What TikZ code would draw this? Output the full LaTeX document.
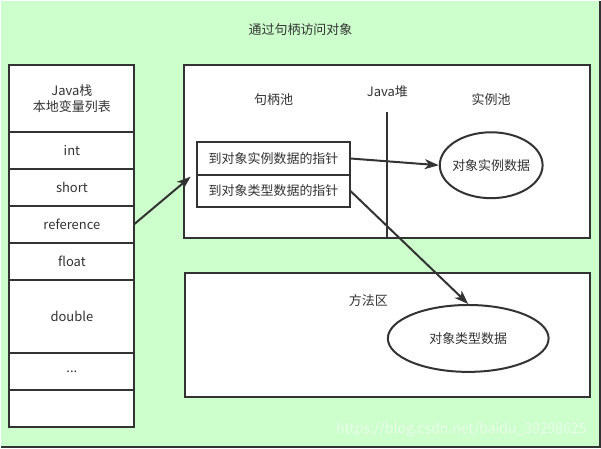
\documentclass[tikz,border=0pt]{standalone}
\usepackage{fontspec}
\setmainfont{Noto Sans CJK SC}
\usepackage{xcolor}
\usepackage{tikz}
\usetikzlibrary{shapes,arrows.meta,positioning}
\definecolor{bggreen}{RGB}{204, 255, 204}
\definecolor{inkgray}{RGB}{51, 51, 51}

\begin{document}
\begin{tikzpicture}[x=1pt, y=1pt,
    cell/.style={rectangle, draw=inkgray, fill=white, line width=2pt, outer sep=0pt, minimum width=125pt, minimum height=37pt, align=center, text=inkgray, font=\fontsize{13}{16}\selectfont},
    ptr/.style={cell, minimum width=154pt, minimum height=32.5pt},
    area/.style={rectangle, draw=inkgray, fill=white, line width=2pt},
    blob/.style={ellipse, draw=inkgray, fill=white, line width=2pt, inner xsep=-6pt, inner ysep=0pt, text=inkgray, font=\fontsize{13}{16}\selectfont},
    note/.style={text=inkgray, font=\fontsize{13}{16}\selectfont},
    arrow/.style={-{Stealth[length=14pt,width=10pt,inset=4pt]}, draw=inkgray, line width=2pt}
]
% Background
\fill[bggreen] (0,0) rectangle (601,-448);
\draw[inkgray, line width=2pt] (0,-446.5) -- (599.5,-446.5) -- (599.5,0);

\node[note] (title) at (300,-29) {通过句柄访问对象};

% Stack
\node[cell, minimum height=67pt] (stackhead) at (71,-97.5) {Java栈\\本地变量列表};
\node[cell, below=0pt of stackhead] (int) {int};
\node[cell, below=0pt of int] (short) {short};
\node[cell, below=0pt of short] (reference) {reference};
\node[cell, below=0pt of reference] (float) {float};
\node[cell, below=0pt of float, minimum height=74pt] (double) {double};
\node[cell, below=0pt of double] (dots) {...};
\node[cell, below=0pt of dots] (spare) {};

% Heap
\node[area, minimum width=406.5pt, minimum height=173pt] (heap) at (386.75,-150.5) {};
\node[note] (heaplabel) at (387,-91) {Java堆};
\node[note] (handlepool) at (273,-99) {句柄池};
\node[note] (instpool) at (491,-99) {实例池};
\coordinate (divtop) at (387,-111);
\draw[inkgray, line width=2pt] (divtop) -- (divtop |- heap.south);

\node[ptr] (instptr) at (273,-157.75) {到对象实例数据的指针};
\node[ptr, below=0pt of instptr] (typeptr) {到对象类型数据的指针};
\node[blob, minimum width=103pt, minimum height=66pt] (instdata) at (491,-164.5) {对象实例数据};

% Method area
\node[area, minimum width=406pt, minimum height=124.5pt] (method) at (387,-334.75) {};
\node[note] (methodlabel) at (368,-300) {方法区};
\node[blob, minimum width=161pt, minimum height=67pt] (typedata) at (468,-338) {对象类型数据};

% Arrows
\draw[arrow] (reference.east) -- ([xshift=-6pt,yshift=-2pt]instptr.south west);
\draw[arrow] (instptr.east) -- (instdata.west);
\draw[arrow] (typeptr.east) -- (typedata.north);

\node[anchor=east, text=white, opacity=0.55, font=\fontsize{14}{16}\selectfont] (mark) at (590,-429) {https://blog.csdn.net/baidu\_39298625};
\end{tikzpicture}
\end{document}
